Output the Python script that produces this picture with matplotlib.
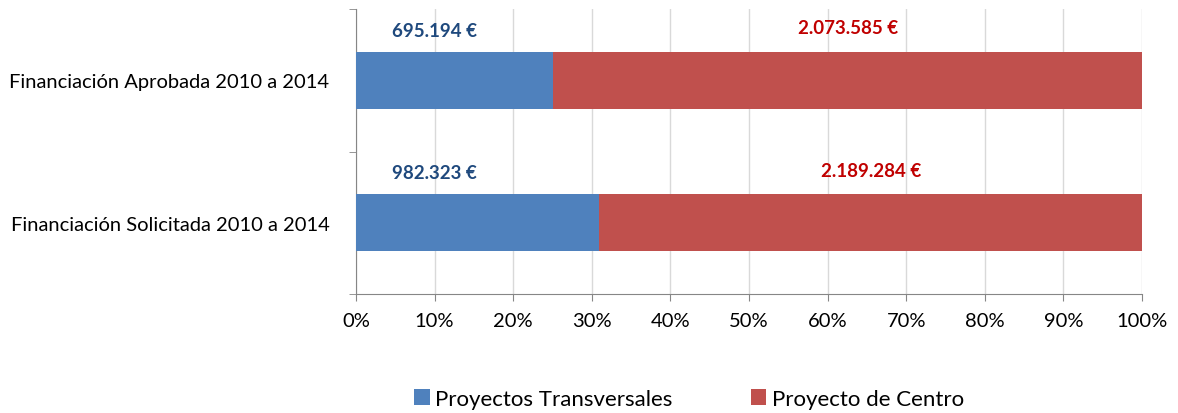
import matplotlib
matplotlib.use("Agg")
import matplotlib.pyplot as plt
import numpy as np

categories = ["Financiación Solicitada 2010 a 2014", "Financiación Aprobada 2010 a 2014"]
series_names = ["Proyectos Transversales", "Proyecto de Centro"]
transversales = [982323, 695194]
centro = [2189284, 2073585]
label_transversales = ["982.323 €", "695.194 €"]
label_centro = ["2.189.284 €", "2.073.585 €"]
x_ticks = [0, 10, 20, 30, 40, 50, 60, 70, 80, 90, 100]

plt.rcParams['font.family'] = ['Lato', 'DejaVu Sans']

fig = plt.figure(figsize=(11.78, 4.14), dpi=100)
ax = fig.add_axes([356/1178, 1-295/414, (1142-356)/1178, (295-10)/414])

t = np.array(transversales, dtype=float)
c = np.array(centro, dtype=float)
tot = t + c
tp = t / tot * 100
cp = c / tot * 100
y = np.arange(len(categories))

blue = "#4F81BD"
red = "#C0504D"
ax.barh(y, tp, height=0.4, color=blue, label=series_names[0], zorder=3)
ax.barh(y, cp, left=tp, height=0.4, color=red, label=series_names[1], zorder=3)

for i in range(len(y)):
    ax.text(10, y[i] + 0.35, label_transversales[i], ha="center", va="center",
            fontsize=13.5, fontweight="bold", color="#1F497D")
    ax.text(tp[i] + cp[i] / 2, y[i] + 0.37, label_centro[i], ha="center", va="center",
            fontsize=13.5, fontweight="bold", color="#C00000")

ax.set_xlim(0, 100)
ax.set_ylim(-0.5, 1.5)
ax.set_xticks(x_ticks)
ax.set_xticklabels([f"{v}%" for v in x_ticks], fontsize=14.5)
ax.set_yticks(y)
ax.set_yticklabels(categories, fontsize=14.5)
ax.set_yticks([-0.5, 0.5, 1.5], minor=True)
ax.tick_params(axis="y", which="major", length=0, pad=19)
ax.tick_params(axis="y", which="minor", length=5, color="#868686", direction="out")
ax.tick_params(axis="x", length=5, color="#868686", direction="out", pad=8)
ax.grid(axis="x", color="#D9D9D9", linewidth=1, zorder=0)
for s in ["top", "right"]:
    ax.spines[s].set_visible(False)
for s in ["left", "bottom"]:
    ax.spines[s].set_color("#868686")

fig.legend(loc="center", bbox_to_anchor=(689/1178, 1-400/414), ncol=2, frameon=False,
           fontsize=16, handlelength=0.7, handleheight=0.7, handletextpad=0.25,
           columnspacing=3.5)

fig.savefig("out.png", dpi=100)
